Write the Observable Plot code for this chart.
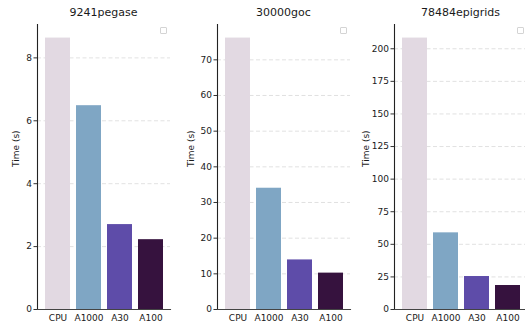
<!DOCTYPE html>
<html>
<head>
<meta charset="utf-8">
<script src="https://cdn.jsdelivr.net/npm/d3@7"></script>
<script src="https://cdn.jsdelivr.net/npm/@observablehq/plot@0.6"></script>
<style>
  html, body { margin: 0; padding: 0; background: #fff; overflow: hidden; }
  body { width: 525px; height: 326px; position: relative; font-family: "DejaVu Sans", sans-serif; }
  .panel { position: absolute; top: 0; }
  .panel svg { max-width: none !important; display: block; }
  .title { position: absolute; top: 6px; font-size: 11px; color: #1a1a1a; text-align: center; white-space: nowrap; }
  .legbox { position: absolute; width: 5px; height: 5px; border: 1px solid #d4d4d4; border-radius: 1px; background: #fff; }
</style>
</head>
<body>
<script>
const devices = ["CPU", "A1000", "A30", "A100"];
const colors = ["#e2d9e2", "#7fa6c4", "#5e4ca9", "#36123e"];
const cases = ["9241pegase", "30000goc", "78484epigrids"];
const times9241 = [8.63, 6.48, 2.70, 2.22];
const times30000 = [76.1, 34.0, 13.9, 10.2];
const times78484 = [208.2, 58.8, 25.3, 18.4];
const ticks9241 = [0, 2, 4, 6, 8];
const ticks30000 = [0, 10, 20, 30, 40, 50, 60, 70];
const ticks78484 = [0, 25, 50, 75, 100, 125, 150, 175, 200];

const panels = [
  {name: cases[0], values: times9241, ticks: ticks9241, left: 0, ml: 37},
  {name: cases[1], values: times30000, ticks: ticks30000, left: 175, ml: 42},
  {name: cases[2], values: times78484, ticks: ticks78484, left: 350, ml: 44}
];

const plotW = 133;
for (const p of panels) {
  const data = devices.map((d, i) => ({device: d, time: p.values[i]}));
  const ymax = d3.max(p.values) * 1.05;
  const chart = Plot.plot({
    width: p.ml + plotW + 2,
    height: 326,
    marginLeft: p.ml,
    marginRight: 2,
    marginTop: 24,
    marginBottom: 17,
    style: {fontFamily: "DejaVu Sans, sans-serif", fontSize: "9px", color: "#1a1a1a", background: "transparent", maxWidth: "none"},
    x: {domain: devices, padding: 0.2, label: null},
    y: {domain: [0, ymax], label: null},
    color: {domain: devices, range: colors},
    marks: [
      Plot.ruleY(p.ticks.filter(t => t > 0), {stroke: "#d9d9d9", strokeDasharray: "4,2.5", strokeWidth: 0.8}),
      Plot.barY(data, {x: "device", y: "time", fill: "device"}),
      Plot.axisY({ticks: p.ticks, tickSize: 3.5, tickPadding: 2, label: null, stroke: "#333", fontSize: 9}),
      Plot.axisX({tickSize: 0, tickPadding: 5, label: null, fontSize: 9}),
      Plot.frame({anchor: "left", stroke: "#222", strokeWidth: 1.1}),
      Plot.frame({anchor: "bottom", stroke: "#444", strokeWidth: 1.1}),
      Plot.text(["Time (s)"], {frameAnchor: "left", dx: -(p.ml - 16), rotate: -90, fontSize: 9, fill: "#1a1a1a"})
    ]
  });
  const div = document.createElement("div");
  div.className = "panel";
  div.style.left = p.left + "px";
  div.style.width = (p.ml + plotW + 2) + "px";
  div.appendChild(chart);
  document.body.appendChild(div);

  const t = document.createElement("div");
  t.className = "title";
  t.textContent = p.name;
  t.style.left = (p.left + p.ml) + "px";
  t.style.width = plotW + "px";
  document.body.appendChild(t);

  const lb = document.createElement("div");
  lb.className = "legbox";
  lb.style.left = (p.left + p.ml + plotW - 10) + "px";
  lb.style.top = "27px";
  document.body.appendChild(lb);
}
</script>
</body>
</html>
